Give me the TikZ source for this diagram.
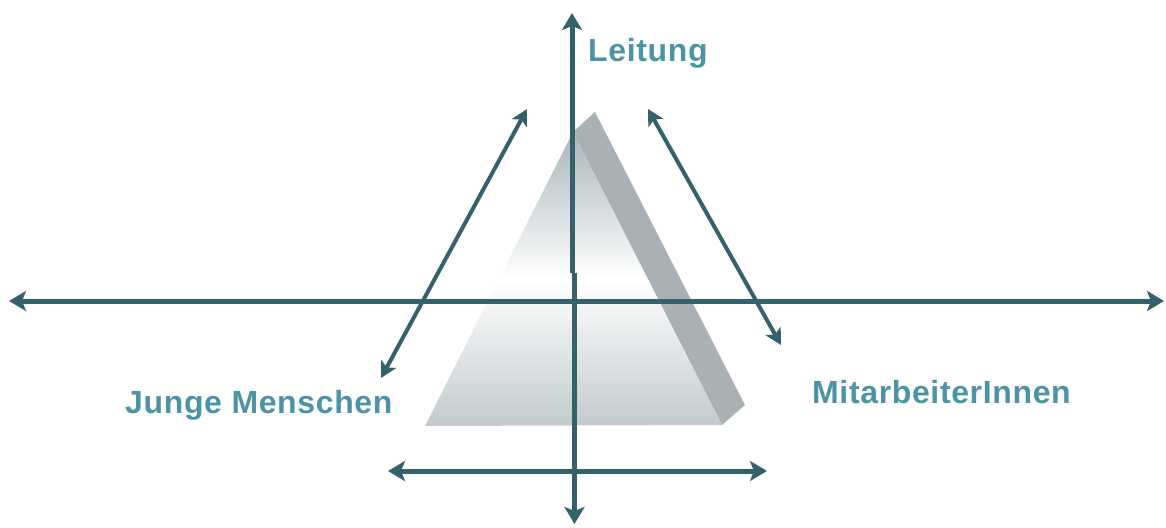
\documentclass[tikz,border=0pt]{standalone}
\usepackage{fontspec}
\setmainfont{Liberation Sans}
\newfontfamily\labelfont[LetterSpace=2.0]{Liberation Sans}
\usetikzlibrary{arrows.meta}
\definecolor{cline}{HTML}{33616C}
\definecolor{ctext}{HTML}{4D93A6}
\definecolor{cside}{HTML}{A9B1B4}
\definecolor{cfacetop}{HTML}{A9B6BA}
\definecolor{cfacebot}{HTML}{C2CACD}

\begin{document}
\begin{tikzpicture}[x=1pt,y=-1pt,
  axis/.style={draw=cline,line width=5pt,{Stealth[length=17pt,width=20pt,inset=4pt]}-{Stealth[length=17pt,width=20pt,inset=4pt]}},
  diag/.style={draw=cline,line width=4pt,{Stealth[length=16pt,width=17pt,inset=4pt]}-{Stealth[length=16pt,width=17pt,inset=4pt]}},
  label/.style={text=ctext,inner sep=0pt,anchor=base west,
    font=\labelfont\bfseries\fontsize{32}{36}\selectfont}]
  \useasboundingbox (0,0) rectangle (1166,527);
  % pyramid
  \fill[cside] (573,132) -- (595,112) -- (745,405) -- (722,425) -- cycle;
  \shade[top color=cfacetop,bottom color=cfacebot,middle color=white]
    (573,132) -- (722,425) -- (425,426) -- cycle;
  % end points of the arrows
  \coordinate (west) at (9,301);
  \coordinate (east) at (1164,301);
  \coordinate (top) at (572,13);
  \coordinate (mid) at (572,273);
  \coordinate (midlow) at (574.5,273);
  \coordinate (bottom) at (574.5,524);
  \coordinate (bwest) at (388,471);
  \coordinate (beast) at (767,471);
  \coordinate (lup) at (527,109);
  \coordinate (llow) at (381,378);
  \coordinate (rup) at (648,109);
  \coordinate (rlow) at (781,345);
  \draw[axis] (west) -- (east);
  \draw[axis] (bwest) -- (beast);
  \draw[draw=cline,line width=5pt,-{Stealth[length=17pt,width=20pt,inset=4pt]}] (mid) -- (top);
  \draw[draw=cline,line width=5pt,-{Stealth[length=17pt,width=20pt,inset=4pt]}] (midlow) -- (bottom);
  \draw[diag] (llow) -- (lup);
  \draw[diag] (rup) -- (rlow);
  % labels
  \node[label] (leitung) at (588,62) {Leitung};
  \node[label] (jugend) at (125,413) {Junge Menschen};
  \node[label] (team) at (812,403) {MitarbeiterInnen};
\end{tikzpicture}
\end{document}
